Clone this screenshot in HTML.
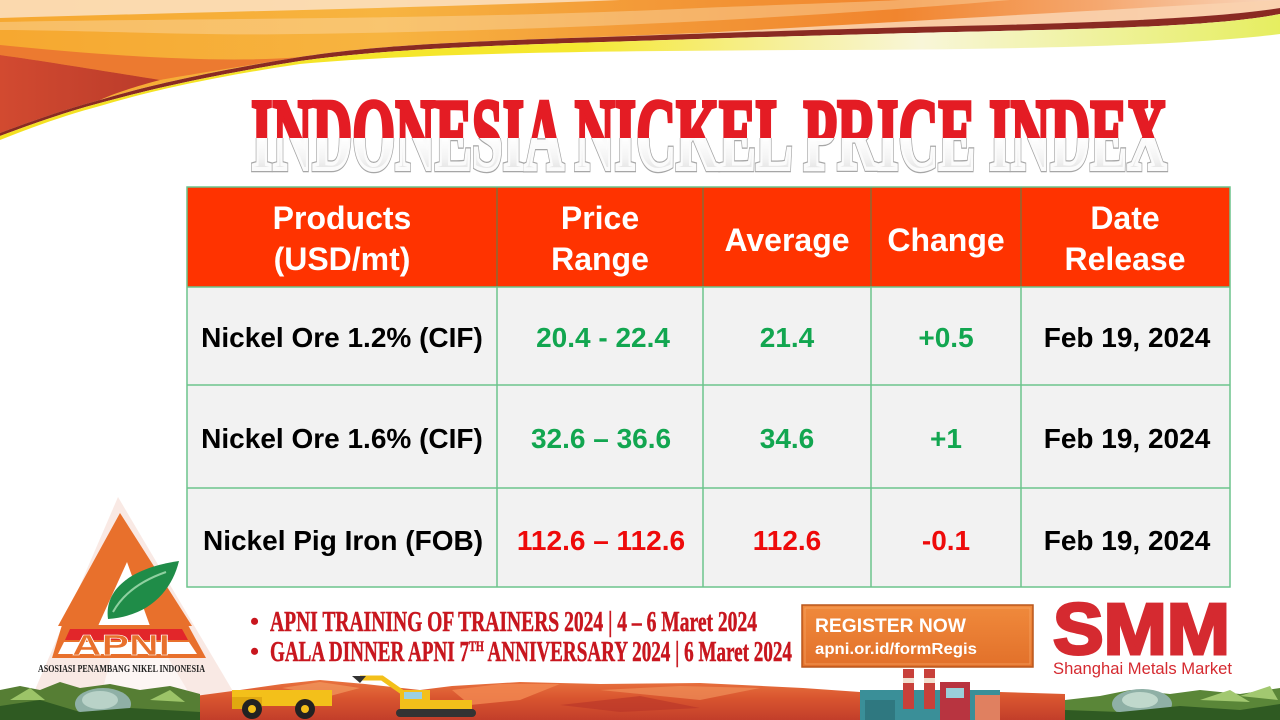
<!DOCTYPE html>
<html><head><meta charset="utf-8">
<style>
html,body{margin:0;padding:0;background:#fff;}
svg{display:block;}
</style></head>
<body>
<svg width="1280" height="720" viewBox="0 0 1280 720" xmlns="http://www.w3.org/2000/svg">
<defs>
  <linearGradient id="og" x1="0" y1="0" x2="1280" y2="0" gradientUnits="userSpaceOnUse">
    <stop offset="0" stop-color="#f6a830"/>
    <stop offset="0.3" stop-color="#f7b440"/>
    <stop offset="0.5" stop-color="#f39a38"/>
    <stop offset="0.7" stop-color="#f1852e"/>
    <stop offset="0.86" stop-color="#f5a870"/>
    <stop offset="1" stop-color="#f9d6bc"/>
  </linearGradient>
  <linearGradient id="yg" x1="0" y1="0" x2="1280" y2="0" gradientUnits="userSpaceOnUse">
    <stop offset="0" stop-color="#f4e020"/>
    <stop offset="0.45" stop-color="#f5e830"/>
    <stop offset="0.62" stop-color="#f6f0a0"/>
    <stop offset="0.72" stop-color="#f8f6d8"/>
    <stop offset="1" stop-color="#e6ee60"/>
  </linearGradient>
  <linearGradient id="wg" x1="0" y1="0" x2="170" y2="0" gradientUnits="userSpaceOnUse">
    <stop offset="0" stop-color="#d24a30"/>
    <stop offset="1" stop-color="#b83a2a"/>
  </linearGradient>
  <linearGradient id="tw" x1="0" y1="138" x2="0" y2="171" gradientUnits="userSpaceOnUse">
    <stop offset="0" stop-color="#ffffff"/>
    <stop offset="0.6" stop-color="#f4f4f4"/>
    <stop offset="1" stop-color="#e2e2e2"/>
  </linearGradient>
  <linearGradient id="hg" x1="0" y1="676" x2="0" y2="720" gradientUnits="userSpaceOnUse">
    <stop offset="0" stop-color="#ec7a42"/>
    <stop offset="0.5" stop-color="#d9552f"/>
    <stop offset="1" stop-color="#c23e2a"/>
  </linearGradient>
  <linearGradient id="rb" x1="0" y1="605" x2="0" y2="667" gradientUnits="userSpaceOnUse">
    <stop offset="0" stop-color="#f08a3c"/>
    <stop offset="1" stop-color="#e2702a"/>
  </linearGradient>
  <clipPath id="ctop"><rect x="0" y="0" width="1280" height="138"/></clipPath>
  <clipPath id="cbot"><rect x="0" y="138" width="1280" height="60"/></clipPath>
</defs>

<!-- top swoosh -->
<path d="M0,0 H1280 V8 C1230,16 1143,21 1000,25 C816,29 700,34 571,38 C420,43 360,48 300,57 C200,73 140,88 100,100 C70,108 40,118 0,133 Z" fill="url(#og)"/>
<path d="M0,0 H620 C420,8 200,12 0,18 Z" fill="#fce2c4" opacity="0.85"/>
<path d="M0,22 C200,18 450,20 700,8 C800,4 860,2 900,0 H1010 C850,14 600,30 300,34 C200,36 80,30 0,30 Z" fill="#fbd9a8" opacity="0.45"/>
<path d="M700,33 C900,22 1100,10 1280,0 V8 C1230,16 1143,21 1000,25 C816,29 700,34 571,38 Z" fill="#f9d2ae" opacity="0.9"/>
<path d="M0,45 C100,55 220,64 300,57 C200,73 170,78 160,80 C110,72 50,62 0,55 Z" fill="#ec7a30"/>
<path d="M0,55 C50,62 110,72 160,80 C130,88 110,95 100,100 C70,108 40,118 0,133 Z" fill="url(#wg)"/>
<path d="M0,133 C40,118 70,108 100,100 C140,88 200,73 300,57 C360,48 420,43 571,38 C700,34 816,29 1000,25 C1143,21 1230,16 1280,8 L1280,14 C1230,24 1143,28 1000,31 C816,35 700,39 571,43 C420,48 360,53 300,61 C200,77 140,92 100,103 C70,111 40,121 0,136 Z" fill="#8a2a22"/>
<path d="M0,136 C40,121 70,111 100,103 C140,92 200,77 300,61 C360,53 420,48 571,43 C700,39 816,35 1000,31 C1143,28 1230,24 1280,14 L1280,34 C1200,44 1050,50 800,50 C600,51 420,53 300,64 C200,79 140,94 100,106 C70,114 40,124 0,140 Z" fill="url(#yg)"/>

<!-- title -->
<g font-family="Liberation Serif, serif" font-weight="bold" font-size="102">
  <text clip-path="url(#ctop)" x="251" y="169" textLength="916" lengthAdjust="spacingAndGlyphs" fill="#e41c24" stroke="#e41c24" stroke-width="4.5" stroke-linejoin="miter">INDONESIA NICKEL PRICE INDEX</text>
  <text clip-path="url(#cbot)" x="251" y="169" textLength="916" lengthAdjust="spacingAndGlyphs" fill="#a6a6a6" stroke="#a6a6a6" stroke-width="6.5" stroke-linejoin="miter">INDONESIA NICKEL PRICE INDEX</text>
  <text clip-path="url(#cbot)" x="251" y="169" textLength="916" lengthAdjust="spacingAndGlyphs" fill="url(#tw)" stroke="#fbfbfb" stroke-width="4" stroke-linejoin="miter">INDONESIA NICKEL PRICE INDEX</text>
</g>

<!-- table -->
<rect x="187" y="187" width="1043" height="100" fill="#ff3300"/>
<rect x="187" y="287" width="1043" height="300" fill="#f2f2f2"/>
<g stroke="#8c6a34" stroke-width="1.5">
  <line x1="497" y1="187" x2="497" y2="287"/>
  <line x1="703" y1="187" x2="703" y2="287"/>
  <line x1="871" y1="187" x2="871" y2="287"/>
  <line x1="1021" y1="187" x2="1021" y2="287"/>
</g>
<g stroke="#6cc48c" stroke-width="1.5" fill="none">
  <rect x="187" y="187" width="1043" height="400"/>
  <line x1="187" y1="287" x2="1230" y2="287"/>
  <line x1="187" y1="385" x2="1230" y2="385"/>
  <line x1="187" y1="488" x2="1230" y2="488"/>
  <line x1="497" y1="287" x2="497" y2="587"/>
  <line x1="703" y1="287" x2="703" y2="587"/>
  <line x1="871" y1="287" x2="871" y2="587"/>
  <line x1="1021" y1="287" x2="1021" y2="587"/>
</g>
<g font-family="Liberation Sans, Arial, sans-serif" font-weight="bold" font-size="32" fill="#ffffff" text-anchor="middle">
  <text x="342" y="229">Products</text>
  <text x="342" y="270">(USD/mt)</text>
  <text x="600" y="229">Price</text>
  <text x="600" y="270">Range</text>
  <text x="787" y="251">Average</text>
  <text x="946" y="251">Change</text>
  <text x="1125" y="229">Date</text>
  <text x="1125" y="270">Release</text>
</g>
<g font-family="Liberation Sans, Arial, sans-serif" font-weight="bold" font-size="28" text-anchor="middle">
  <text x="342" y="347" fill="#000">Nickel Ore 1.2% (CIF)</text>
  <text x="603" y="347" fill="#12a650">20.4 - 22.4</text>
  <text x="787" y="347" fill="#12a650">21.4</text>
  <text x="946" y="347" fill="#12a650">+0.5</text>
  <text x="1127" y="347" fill="#000">Feb 19, 2024</text>

  <text x="342" y="448" fill="#000">Nickel Ore 1.6% (CIF)</text>
  <text x="601" y="448" fill="#12a650">32.6 – 36.6</text>
  <text x="787" y="448" fill="#12a650">34.6</text>
  <text x="946" y="448" fill="#12a650">+1</text>
  <text x="1127" y="448" fill="#000">Feb 19, 2024</text>

  <text x="343" y="550" fill="#000">Nickel Pig Iron (FOB)</text>
  <text x="601" y="550" fill="#ee0a0a">112.6 – 112.6</text>
  <text x="787" y="550" fill="#ee0a0a">112.6</text>
  <text x="946" y="550" fill="#ee0a0a">-0.1</text>
  <text x="1127" y="550" fill="#000">Feb 19, 2024</text>
</g>

<!-- APNI logo watermark -->
<polygon points="118,497 22,720 250,720" fill="#f6e0d8" opacity="0.7"/>
<polygon points="128,590 95,720 205,720" fill="#ffffff" opacity="0.6"/>
<!-- APNI logo -->
<polygon points="120,513 58,626 192,626" fill="#e8702c"/>
<polygon points="127,562 98,626 150,626" fill="#ffffff"/>
<path d="M108,619 C104,590 130,568 179,561 C172,590 150,616 108,619 Z" fill="#1f8c48"/>
<path d="M113,612 C124,592 143,580 166,572" stroke="#8fd0a0" stroke-width="2" fill="none"/>
<polygon points="62,625 188,625 206,658 52,658" fill="#e8702c"/>
<polygon points="70,629 182,629 188,640 65,640" fill="#e2262a"/>
<polygon points="64,642 189,642 197,654 58,654" fill="#ffffff"/>
<text x="72" y="655" font-family="Liberation Sans, Arial, sans-serif" font-weight="bold" font-size="29" textLength="98" lengthAdjust="spacingAndGlyphs" fill="#e8702c" stroke="#ffffff" stroke-width="0.6">APNI</text>
<text x="38" y="672" font-family="Liberation Serif, serif" font-weight="bold" font-size="11" textLength="167" lengthAdjust="spacingAndGlyphs" fill="#222">ASOSIASI PENAMBANG NIKEL INDONESIA</text>

<!-- bullets -->
<g font-family="Liberation Serif, serif" font-weight="bold" fill="#c8161e">
  <text x="250" y="630" font-size="26">•</text>
  <text x="270" y="631" font-size="28" textLength="487" lengthAdjust="spacingAndGlyphs" stroke="#c8161e" stroke-width="0.5">APNI TRAINING OF TRAINERS 2024 | 4 – 6 Maret 2024</text>
  <text x="250" y="660" font-size="26">•</text>
  <text x="270" y="661" font-size="28" textLength="522" lengthAdjust="spacingAndGlyphs" stroke="#c8161e" stroke-width="0.5">GALA DINNER APNI 7<tspan font-size="15" dy="-10">TH</tspan><tspan dy="10"> ANNIVERSARY 2024 | 6 Maret 2024</tspan></text>
</g>

<!-- register box -->
<rect x="802" y="605" width="231" height="62" fill="url(#rb)" stroke="#b9561c" stroke-width="1.5"/>
<rect x="805" y="608" width="225" height="56" fill="none" stroke="#f6a86a" stroke-width="1" opacity="0.7"/>
<text x="815" y="632" font-family="Liberation Sans, Arial, sans-serif" font-weight="bold" font-size="19" fill="#ffffff" textLength="151" lengthAdjust="spacingAndGlyphs">REGISTER NOW</text>
<text x="815" y="654" font-family="Liberation Sans, Arial, sans-serif" font-weight="bold" font-size="16" fill="#ffffff" textLength="162" lengthAdjust="spacingAndGlyphs">apni.or.id/formRegis</text>

<!-- SMM logo -->
<text x="1053" y="654" font-family="Liberation Sans, Arial, sans-serif" font-weight="bold" font-size="72" textLength="177" lengthAdjust="spacingAndGlyphs" fill="#d52a30" stroke="#d52a30" stroke-width="3">SMM</text>
<text x="1053" y="674" font-family="Liberation Sans, Arial, sans-serif" font-size="16.5" fill="#d52a30" textLength="179" lengthAdjust="spacingAndGlyphs">Shanghai Metals Market</text>

<!-- bottom landscape -->
<path d="M195,720 L195,696 L240,690 L282,684 L320,680 L365,684 L420,690 L452,686 L520,682 L600,684 L700,683 L803,688 L860,692 L1000,692 L1065,694 L1065,720 Z" fill="url(#hg)"/>
<path d="M452,690 L500,684 L560,684 L520,700 L470,705 Z" fill="#f28a52" opacity="0.8"/>
<path d="M600,690 L680,686 L760,688 L700,700 Z" fill="#f0905a" opacity="0.7"/>
<path d="M282,688 L320,682 L360,688 L330,696 Z" fill="#f29a60" opacity="0.7"/>
<path d="M560,705 L640,696 L700,708 L620,712 Z" fill="#b83428" opacity="0.6"/>
<!-- dump truck -->
<rect x="232" y="690" width="100" height="16" fill="#f3c01a"/>
<rect x="232" y="697" width="30" height="12" fill="#e0a810"/>
<circle cx="252" cy="709" r="10" fill="#222"/><circle cx="252" cy="709" r="4" fill="#f3c01a"/>
<circle cx="305" cy="709" r="10" fill="#222"/><circle cx="305" cy="709" r="4" fill="#f3c01a"/>
<!-- excavator -->
<rect x="400" y="700" width="72" height="10" fill="#f3c01a"/>
<rect x="400" y="690" width="30" height="12" fill="#f3c01a"/>
<rect x="404" y="692" width="18" height="7" fill="#9cd0e0"/>
<rect x="396" y="709" width="80" height="8" rx="4" fill="#333"/>
<path d="M402,692 L382,678 L360,678" stroke="#f3c01a" stroke-width="5" fill="none"/>
<path d="M352,676 L366,676 L360,683 Z" fill="#333"/>
<!-- factory -->
<rect x="860" y="690" width="140" height="30" fill="#3a8f98"/>
<rect x="903" y="669" width="11" height="40" fill="#c8403a"/>
<rect x="903" y="678" width="11" height="5" fill="#f2e0d0"/>
<rect x="924" y="669" width="11" height="40" fill="#c8403a"/>
<rect x="924" y="678" width="11" height="5" fill="#f2e0d0"/>
<rect x="940" y="682" width="30" height="38" fill="#b83440"/>
<rect x="946" y="688" width="18" height="10" fill="#9ad0da"/>
<rect x="975" y="695" width="25" height="25" fill="#e08060"/>
<rect x="865" y="700" width="30" height="20" fill="#2f7880"/>
<!-- left plants -->
<path d="M0,720 L0,690 L20,686 L40,690 L60,682 L80,688 L110,684 L140,690 L170,686 L200,694 L200,720 Z" fill="#567e34"/>
<ellipse cx="103" cy="704" rx="28" ry="16" fill="#8fb0a6"/>
<ellipse cx="100" cy="700" rx="18" ry="9" fill="#b9d2c8"/>
<path d="M0,720 L0,706 L40,700 L80,712 L130,708 L200,712 L200,720 Z" fill="#2f5a22"/>
<path d="M10,700 L30,688 L45,700 Z M150,700 L170,690 L185,702 Z" fill="#9cc468"/>
<!-- right plants -->
<path d="M1065,720 L1065,700 L1100,696 L1130,690 L1170,694 L1200,690 L1240,694 L1280,688 L1280,720 Z" fill="#5a8638"/>
<ellipse cx="1142" cy="704" rx="30" ry="15" fill="#8fb0a6"/>
<ellipse cx="1140" cy="700" rx="18" ry="8" fill="#c0d8cc"/>
<path d="M1065,720 L1065,710 L1120,712 L1180,706 L1240,710 L1280,704 L1280,720 Z" fill="#2f5a22"/>
<path d="M1200,700 L1230,690 L1250,702 Z M1240,696 L1270,686 L1278,700 Z" fill="#a2c870"/>
</svg>
</body></html>
